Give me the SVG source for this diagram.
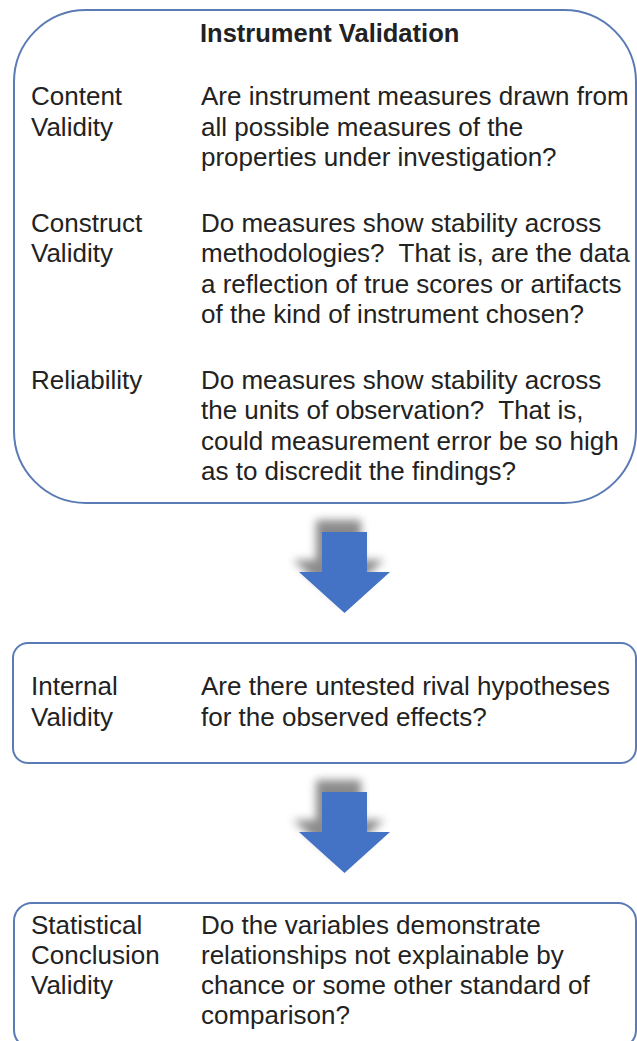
<svg xmlns="http://www.w3.org/2000/svg" width="637" height="1041" viewBox="0 0 637 1041">
  <style>
    .box { fill: #ffffff; stroke: #5b7bb5; stroke-width: 2; }
    text { font-family: "Liberation Sans", Arial, sans-serif; font-size: 26px; fill: #222222; }
    .title { font-weight: bold; font-size: 25.5px; }
    .arrow { fill: #4472c4; }
    .shadow { fill: #6e6e6e; opacity: 0.8; filter: url(#soft); }
  </style>
  <defs>
    <filter id="soft" x="-30%" y="-30%" width="160%" height="160%">
      <feGaussianBlur stdDeviation="4"/>
    </filter>
    <polygon id="downArrow" points="322,0 367,0 367,40 390,40 344.5,81 299,40 322,40"/>
  </defs>

  <rect x="0" y="0" width="637" height="1041" fill="#ffffff"/>

  <!-- Instrument validation panel -->
  <g id="instrument-validation">
    <rect class="box" x="14" y="10" width="622" height="493" rx="72" ry="72"/>
    <text class="title" x="200" y="42">Instrument Validation</text>

    <text x="31" y="105">Content</text>
    <text x="31" y="135.5">Validity</text>
    <text x="201" y="105">Are instrument measures drawn from</text>
    <text x="201" y="135.5">all possible measures of the</text>
    <text x="201" y="166">properties under investigation?</text>

    <text x="31" y="231.5">Construct</text>
    <text x="31" y="262">Validity</text>
    <text x="201" y="231.5">Do measures show stability across</text>
    <text x="201" y="262" xml:space="preserve">methodologies?  That is, are the data</text>
    <text x="201" y="292.5">a reflection of true scores or artifacts</text>
    <text x="201" y="323">of the kind of instrument chosen?</text>

    <text x="31" y="388.5">Reliability</text>
    <text x="201" y="388.5">Do measures show stability across</text>
    <text x="201" y="419" xml:space="preserve">the units of observation?  That is,</text>
    <text x="201" y="449.5">could measurement error be so high</text>
    <text x="201" y="480">as to discredit the findings?</text>
  </g>

  <!-- Internal validity panel -->
  <g id="internal-validity">
    <rect class="box" x="13" y="643" width="623" height="120" rx="15" ry="15"/>
    <text x="31" y="695">Internal</text>
    <text x="31" y="725.5">Validity</text>
    <text x="201" y="695">Are there untested rival hypotheses</text>
    <text x="201" y="725.5">for the observed effects?</text>
  </g>

  <!-- Statistical conclusion validity panel -->
  <g id="statistical-conclusion-validity">
    <rect class="box" x="14" y="903" width="622" height="145" rx="18" ry="18"/>
    <text x="31" y="934">Statistical</text>
    <text x="31" y="964">Conclusion</text>
    <text x="31" y="994">Validity</text>
    <text x="201" y="934">Do the variables demonstrate</text>
    <text x="201" y="964">relationships not explainable by</text>
    <text x="201" y="994">chance or some other standard of</text>
    <text x="201" y="1024">comparison?</text>
  </g>

  <!-- Block arrows between panels -->
  <g id="connectors">
    <g id="arrow-1">
      <use href="#downArrow" class="shadow" transform="translate(-6,520)"/>
      <use href="#downArrow" class="arrow" transform="translate(0,532)"/>
    </g>
    <g id="arrow-2">
      <use href="#downArrow" class="shadow" transform="translate(-6,780)"/>
      <use href="#downArrow" class="arrow" transform="translate(0,792)"/>
    </g>
  </g>
</svg>
